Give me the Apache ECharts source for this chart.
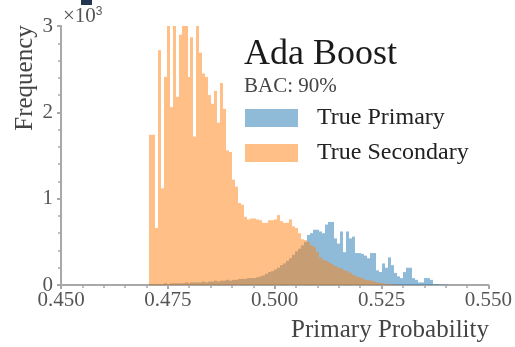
<!DOCTYPE html>
<html>
<head>
<meta charset="utf-8">
<script src="https://cdn.jsdelivr.net/npm/echarts@6/dist/echarts.min.js"></script>
<style>
  html, body { margin: 0; padding: 0; background: #fff; }
  #chart { width: 515px; height: 347px; }
</style>
</head>
<body>
<div id="chart"></div>
<script>
// Histogram bins: left edge of the first bin and the common bin width
const binStart = 0.4705;
const binWidth = 0.0007;

// Counts per bin, in thousands
const truePrimary = [
  0.01, 0.01, 0.01, 0.01, 0.01, 0.02, 0.01, 0.02, 0.02, 0.02,
  0.02, 0.02, 0.03, 0.02, 0.03, 0.03, 0.03, 0.03, 0.04, 0.03,
  0.04, 0.04, 0.05, 0.04, 0.05, 0.05, 0.06, 0.05, 0.06, 0.06,
  0.07, 0.07, 0.07, 0.08, 0.08, 0.08, 0.09, 0.10, 0.11, 0.13,
  0.15, 0.16, 0.18, 0.20, 0.23, 0.25, 0.28, 0.31, 0.35, 0.39,
  0.42, 0.46, 0.50, 0.58, 0.60, 0.64, 0.64, 0.62, 0.60, 0.70,
  0.73, 0.73, 0.54, 0.48, 0.62, 0.38, 0.62, 0.54, 0.56, 0.37,
  0.37, 0.36, 0.34, 0.31, 0.37, 0.37, 0.17, 0.15, 0.25, 0.20,
  0.32, 0.23, 0.14, 0.10, 0.08, 0.15, 0.20, 0.20, 0.08, 0.06,
  0.03, 0.03, 0.08, 0.08, 0.06, 0.01, 0.01, 0.005, 0.005, 0.005
];

const trueSecondary = [
  1.74, 1.74, 0.66, 2.72, 1.12, 2.41, 3.00, 2.06, 3.00, 2.18,
  2.90, 3.00, 3.00, 2.41, 2.87, 1.72, 3.00, 2.69, 2.45, 2.41,
  2.20, 2.10, 2.25, 1.88, 2.34, 2.04, 1.56, 1.54, 1.22, 1.14,
  0.95, 0.93, 0.79, 0.76, 0.77, 0.77, 0.76, 0.75, 0.72, 0.72,
  0.75, 0.75, 0.76, 0.81, 0.74, 0.72, 0.72, 0.76, 0.68, 0.66,
  0.60, 0.53, 0.52, 0.50, 0.46, 0.44, 0.38, 0.32, 0.29, 0.28,
  0.26, 0.24, 0.22, 0.20, 0.19, 0.17, 0.16, 0.14, 0.12, 0.10,
  0.09, 0.08, 0.06, 0.06, 0.05, 0.04, 0.03, 0.02, 0.02, 0.01,
  0.01, 0.005, 0.005
];

const xTicks = { min: 0.45, max: 0.55, step: 0.025 };
const yTicks = { min: 0, max: 3, step: 1 };

const serif = '"Liberation Serif", "DejaVu Serif", serif';

function toBins(values) {
  return values.map((v, i) => [binStart + i * binWidth, binStart + (i + 1) * binWidth, v]);
}

// Each bin is a rectangle snapped to whole pixels so neighbouring bins meet without seams
function renderBin(params, api) {
  const topLeft = api.coord([api.value(0), api.value(2)]);
  const bottomRight = api.coord([api.value(1), 0]);
  const x0 = Math.round(topLeft[0]);
  const x1 = Math.round(bottomRight[0]);
  return {
    type: 'rect',
    shape: {
      x: x0,
      y: topLeft[1],
      width: x1 - x0,
      height: bottomRight[1] - topLeft[1]
    },
    style: api.style()
  };
}

const chart = echarts.init(document.getElementById('chart'), null, { renderer: 'canvas' });

chart.setOption({
  animation: false,
  backgroundColor: '#ffffff',
  grid: { left: 61, right: 26, top: 26, bottom: 62 },
  title: {
    text: 'Ada Boost',
    subtext: 'BAC: 90%',
    left: 244,
    top: 37,
    itemGap: 3,
    padding: 0,
    textStyle: { fontFamily: serif, fontSize: 36, fontWeight: 'normal', color: '#1a1a1a' },
    subtextStyle: { fontFamily: serif, fontSize: 21, color: '#444' }
  },
  legend: {
    orient: 'vertical',
    left: 245,
    top: 106,
    padding: 0,
    itemWidth: 53,
    itemHeight: 18,
    itemGap: 11,
    icon: 'rect',
    textStyle: { fontFamily: serif, fontSize: 24, color: '#222', padding: [0, 0, 0, 14] },
    data: ['True Primary', 'True Secondary']
  },
  xAxis: {
    type: 'value',
    min: xTicks.min,
    max: xTicks.max,
    interval: xTicks.step,
    axisLine: { lineStyle: { color: '#a8a8a8', width: 2 } },
    axisTick: { show: true, length: 4, lineStyle: { color: '#a8a8a8', width: 2 } },
    minorTick: { show: true, splitNumber: 5, length: 3, lineStyle: { color: '#a8a8a8', width: 1.5 } },
    splitLine: { show: false },
    axisLabel: {
      margin: 5,
      fontFamily: serif,
      fontSize: 21,
      color: '#555',
      formatter: v => v.toFixed(3)
    }
  },
  yAxis: {
    type: 'value',
    min: yTicks.min,
    max: yTicks.max,
    interval: yTicks.step,
    axisLine: { show: true, lineStyle: { color: '#a8a8a8', width: 2 } },
    axisTick: { show: true, length: 4, lineStyle: { color: '#a8a8a8', width: 2 } },
    minorTick: { show: true, splitNumber: 5, length: 3, lineStyle: { color: '#a8a8a8', width: 1.5 } },
    splitLine: { show: false },
    axisLabel: { margin: 8, fontFamily: serif, fontSize: 21, color: '#555' }
  },
  graphic: [
    { type: 'rect', shape: { x: 81, y: 0, width: 11, height: 5 }, style: { fill: '#22364f' } },
    {
      type: 'text',
      x: 63,
      y: 6,
      style: {
        text: '×10{sup|3}',
        font: '21px ' + serif,
        fill: '#555',
        rich: { sup: { fontSize: 12, verticalAlign: 'top', padding: [0, 0, 8, 0], fill: '#555' } }
      }
    },
    {
      type: 'text',
      x: 25,
      y: 78,
      rotation: Math.PI / 2,
      style: { text: 'Frequency', font: '25px ' + serif, fill: '#444', align: 'center', verticalAlign: 'middle' }
    },
    {
      type: 'text',
      x: 489,
      y: 330,
      style: { text: 'Primary Probability', font: '25px ' + serif, fill: '#444', align: 'right', verticalAlign: 'middle' }
    }
  ],
  series: [
    {
      name: 'True Primary',
      type: 'custom',
      renderItem: renderBin,
      itemStyle: { color: 'rgba(31,119,180,0.5)' },
      encode: { x: [0, 1], y: 2 },
      data: toBins(truePrimary)
    },
    {
      name: 'True Secondary',
      type: 'custom',
      renderItem: renderBin,
      itemStyle: { color: 'rgba(255,127,14,0.5)' },
      encode: { x: [0, 1], y: 2 },
      data: toBins(trueSecondary)
    }
  ]
});
</script>
</body>
</html>
